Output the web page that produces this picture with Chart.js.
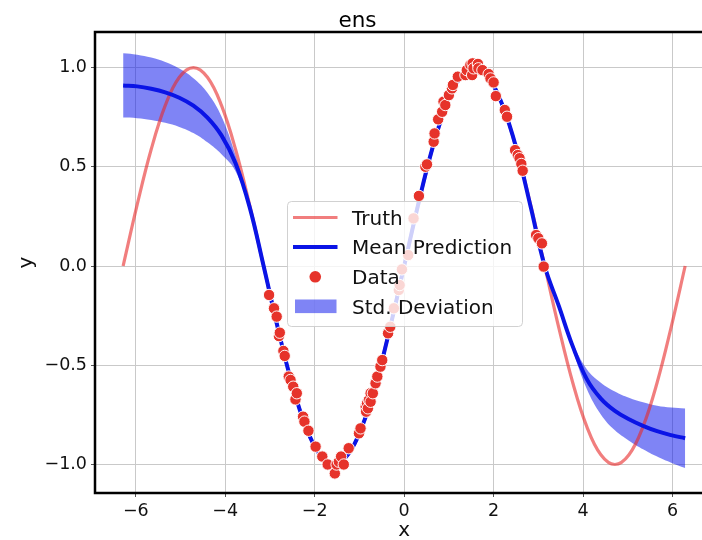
<!DOCTYPE html>
<html><head><meta charset="utf-8">
<script src="https://cdn.jsdelivr.net/npm/chart.js@4.4.0/dist/chart.umd.min.js"></script>
<style>
html,body{margin:0;padding:0;overflow:hidden;background:#fff;width:702px;height:540px}
#wrap{position:absolute;left:0;top:0;width:720px;height:540px}
</style>
</head><body><div id="wrap"><canvas id="c" width="720" height="540"></canvas></div>
<script>
// ---- data ----
const gridX = [-6.283,-5.969,-5.655,-5.341,-5.027,-4.712,-4.398,-4.084,-3.770,-3.456,-3.142,-2.827,-2.513,-2.199,-1.885,-1.571,-1.257,-0.942,-0.628,-0.314,0,0.314,0.628,0.942,1.257,1.571,1.885,2.199,2.513,2.827,3.142,3.456,3.770,4.084,4.398,4.712,5.027,5.341,5.655,5.969,6.283];
const truthY = [0,0.309,0.588,0.809,0.951,1,0.951,0.809,0.588,0.309,0,-0.309,-0.588,-0.809,-0.951,-1,-0.951,-0.809,-0.588,-0.309,0,0.309,0.588,0.809,0.951,1,0.951,0.809,0.588,0.309,0,-0.309,-0.588,-0.809,-0.951,-1,-0.951,-0.809,-0.588,-0.309,0];
const meanY = [0.91,0.905,0.893,0.875,0.848,0.808,0.748,0.658,0.518,0.298,0.0,-0.31,-0.59,-0.81,-0.95,-1.00,-0.95,-0.81,-0.59,-0.31,0.0,0.31,0.59,0.81,0.95,1.00,0.95,0.81,0.59,0.30,0.0,-0.20,-0.405,-0.57,-0.668,-0.73,-0.772,-0.805,-0.832,-0.852,-0.868];
const bandLow = [0.748,0.745,0.736,0.722,0.701,0.670,0.623,0.563,0.478,0.288,-0.005,-0.315,-0.595,-0.815,-0.955,-1.005,-0.955,-0.815,-0.595,-0.315,-0.005,0.305,0.585,0.805,0.945,0.995,0.945,0.805,0.585,0.295,-0.005,-0.205,-0.425,-0.62,-0.748,-0.828,-0.88,-0.923,-0.96,-0.991,-1.018];
const bandHigh = [1.072,1.065,1.050,1.028,0.995,0.946,0.873,0.753,0.558,0.308,0.005,-0.305,-0.585,-0.805,-0.945,-0.995,-0.945,-0.805,-0.585,-0.305,0.005,0.315,0.595,0.815,0.955,1.005,0.955,0.815,0.595,0.305,0.005,-0.195,-0.385,-0.52,-0.588,-0.632,-0.664,-0.687,-0.704,-0.713,-0.718];
const dataX = [-3.02,-2.91,-2.85,-2.80,-2.78,-2.70,-2.67,-2.58,-2.54,-2.48,-2.43,-2.40,-2.26,-2.23,-2.14,-1.98,-1.83,-1.71,-1.55,-1.51,-1.46,-1.41,-1.35,-1.24,-1.01,-0.975,-0.86,-0.85,-0.83,-0.81,-0.79,-0.75,-0.75,-0.70,-0.64,-0.60,-0.53,-0.49,-0.36,-0.31,-0.23,-0.12,-0.10,-0.05,0.09,0.21,0.33,0.475,0.51,0.66,0.68,0.76,0.85,0.88,0.92,1.00,1.07,1.09,1.20,1.37,1.40,1.48,1.52,1.53,1.55,1.65,1.66,1.75,1.89,1.93,2.00,2.05,2.25,2.30,2.48,2.54,2.58,2.62,2.65,2.95,3.00,3.08,3.12];
const dataY = [-0.146,-0.213,-0.255,-0.353,-0.336,-0.428,-0.453,-0.557,-0.574,-0.608,-0.672,-0.641,-0.759,-0.784,-0.83,-0.91,-0.96,-1.00,-1.045,-1.00,-0.986,-0.96,-1.00,-0.918,-0.843,-0.818,-0.709,-0.734,-0.692,-0.717,-0.675,-0.641,-0.684,-0.641,-0.591,-0.557,-0.507,-0.474,-0.339,-0.306,-0.213,-0.121,-0.096,-0.017,0.055,0.24,0.353,0.50,0.512,0.626,0.668,0.739,0.777,0.828,0.811,0.861,0.895,0.912,0.954,0.962,0.987,1.013,0.962,1.021,0.996,1.018,0.996,0.987,0.967,0.945,0.925,0.856,0.786,0.752,0.584,0.559,0.543,0.514,0.48,0.156,0.14,0.114,-0.003];
const xTicks = [-6,-4,-2,0,2,4,6];
const yTicks = [-1,-0.5,0,0.5,1];
const legendLabels = ['Truth','Mean Prediction','Data','Std. Deviation'];
const titleText = 'ens';
const xLabel = 'x';
const yLabel = 'y';

// ---- styles ----
const FONT = "'DejaVu Sans', 'Liberation Sans', sans-serif";
const truthColor = 'rgba(232,40,40,0.6)';
const meanColor = '#0a14e6';
const bandColor = 'rgba(10,20,235,0.52)';
const dotColor = '#e6332a';

const pts = (xs, ys) => xs.map((x, i) => ({x, y: ys[i]}));
const fmt = v => (v < 0 ? '\u2212' : '') + Math.abs(v);
const fmt1 = v => (v < 0 ? '\u2212' : '') + Math.abs(v).toFixed(1);

const framePlugin = {
  id: 'frameAndLegend',
  afterDraw(chart) {
    const ctx = chart.ctx, a = chart.chartArea;
    ctx.save();
    ctx.strokeStyle = '#000';
    ctx.lineWidth = 2.5;
    ctx.strokeRect(a.left, a.top, a.right - a.left, a.bottom - a.top);
    const L = 287.5, T = 201.5, W = 235, H = 125, r = 4;
    ctx.beginPath();
    ctx.moveTo(L + r, T);
    ctx.lineTo(L + W - r, T); ctx.quadraticCurveTo(L + W, T, L + W, T + r);
    ctx.lineTo(L + W, T + H - r); ctx.quadraticCurveTo(L + W, T + H, L + W - r, T + H);
    ctx.lineTo(L + r, T + H); ctx.quadraticCurveTo(L, T + H, L, T + H - r);
    ctx.lineTo(L, T + r); ctx.quadraticCurveTo(L, T, L + r, T);
    ctx.closePath();
    ctx.fillStyle = 'rgba(255,255,255,0.8)';
    ctx.fill();
    ctx.strokeStyle = 'rgba(204,204,204,0.9)';
    ctx.lineWidth = 1;
    ctx.stroke();
    const rows = [217.5, 247, 276.8, 306.3];
    const hx0 = 293, hx1 = 337.5, tx = 352;
    ctx.strokeStyle = truthColor; ctx.lineWidth = 3.2; ctx.lineCap = 'butt';
    ctx.beginPath(); ctx.moveTo(hx0, rows[0]); ctx.lineTo(hx1, rows[0]); ctx.stroke();
    ctx.strokeStyle = meanColor; ctx.lineWidth = 4;
    ctx.beginPath(); ctx.moveTo(hx0, rows[1]); ctx.lineTo(hx1, rows[1]); ctx.stroke();
    ctx.fillStyle = dotColor;
    ctx.beginPath(); ctx.arc((hx0 + hx1) / 2, rows[2], 5.8, 0, Math.PI * 2); ctx.fill();
    ctx.fillStyle = bandColor;
    ctx.fillRect(295, rows[3] - 6.8, 41.5, 13.6);
    ctx.fillStyle = '#111';
    ctx.font = '20px ' + FONT;
    ctx.textAlign = 'left';
    ctx.textBaseline = 'alphabetic';
    legendLabels.forEach((t, i) => ctx.fillText(t, tx, rows[i] + 7.3));
    ctx.restore();
  }
};

Chart.defaults.font.family = FONT;
Chart.defaults.color = '#111';

const curve = { showLine: true, pointRadius: 0, tension: 0.4, cubicInterpolationMode: 'default' };

new Chart(document.getElementById('c'), {
  type: 'scatter',
  data: {
    datasets: [
      { label: 'Data', data: pts(dataX, dataY), backgroundColor: dotColor, borderColor: 'rgba(255,255,255,0.95)',
        pointRadius: 5.7, pointBorderWidth: 1, pointHoverRadius: 5.7, showLine: false },
      Object.assign({ label: 'Mean Prediction', data: pts(gridX, meanY), borderColor: meanColor, borderWidth: 4, fill: false }, curve),
      Object.assign({ label: 'Truth', data: pts(gridX, truthY), borderColor: truthColor, borderWidth: 3.2, fill: false }, curve),
      Object.assign({ label: 'Std. Deviation', data: pts(gridX, bandHigh), borderWidth: 0, borderColor: 'rgba(0,0,0,0)',
        backgroundColor: bandColor, fill: '+1' }, curve),
      Object.assign({ label: 'std-low', data: pts(gridX, bandLow), borderWidth: 0, borderColor: 'rgba(0,0,0,0)', fill: false }, curve)
    ]
  },
  options: {
    responsive: false,
    animation: false,
    events: [],
    layout: { padding: { left: 0, right: 5, top: 0, bottom: 0 } },
    plugins: {
      legend: { display: false },
      tooltip: { enabled: false },
      title: { display: true, text: titleText, color: '#000',
        font: { size: 21.5, weight: 'normal', lineHeight: 1.0 }, padding: { top: 11, bottom: -0.5 } }
    },
    scales: {
      x: {
        type: 'linear', min: -6.912, max: 6.912,
        afterBuildTicks: s => { s.ticks = xTicks.map(v => ({ value: v })); },
        afterFit: s => { s.height = 47; },
        ticks: { callback: v => fmt(v), font: { size: 17.5 }, color: '#111', padding: 4, maxRotation: 0 },
        grid: { color: '#c9c9c9', lineWidth: 1, tickColor: '#555', tickLength: 4, tickWidth: 1 },
        border: { display: false },
        title: { display: true, text: xLabel, color: '#111', font: { size: 20, lineHeight: 1.0 }, padding: { top: 0, bottom: -1 } }
      },
      y: {
        type: 'linear', min: -1.1436, max: 1.179,
        afterBuildTicks: s => { s.ticks = yTicks.map(v => ({ value: v })); },
        afterFit: s => { s.width = 95; },
        ticks: { callback: v => fmt1(v), font: { size: 17.5 }, color: '#111', padding: 4 },
        grid: { color: '#c9c9c9', lineWidth: 1, tickColor: '#555', tickLength: 4, tickWidth: 1 },
        border: { display: false },
        title: { display: true, text: yLabel, color: '#111', font: { size: 20, lineHeight: 1.0 }, padding: { top: 17, bottom: 0 } }
      }
    }
  },
  plugins: [framePlugin]
});
</script>
</body></html>
